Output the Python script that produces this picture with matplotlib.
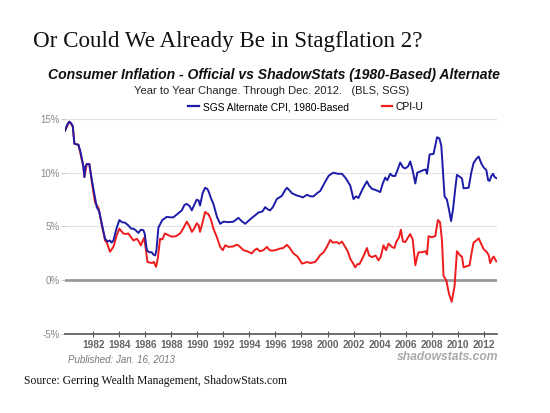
import matplotlib
matplotlib.use("Agg")
import matplotlib.pyplot as plt
from matplotlib.lines import Line2D

# SGS alternate CPI (1980-based), year-over-year %
sgs_year = [1979.82, 1980.0, 1980.15, 1980.3, 1980.42, 1980.54, 1980.85, 1981.0, 1981.23, 1981.31,
            1981.4, 1981.49, 1981.69, 1981.9, 1982.13, 1982.26, 1982.45, 1982.65, 1982.9, 1983.1,
            1983.28, 1983.4, 1983.54, 1983.8, 1984.0, 1984.2, 1984.44, 1984.69, 1984.9, 1985.08,
            1985.3, 1985.46, 1985.65, 1985.85, 1985.95, 1986.11, 1986.3, 1986.49, 1986.6, 1986.75,
            1986.85, 1987.0, 1987.3, 1987.65, 1987.9, 1988.15, 1988.5, 1988.8, 1989.0, 1989.18,
            1989.4, 1989.57, 1989.75, 1989.95, 1990.1, 1990.2, 1990.4, 1990.59, 1990.75, 1990.85,
            1991.05, 1991.23, 1991.5, 1991.75, 1992.0, 1992.4, 1992.77, 1993.15, 1993.4, 1993.67,
            1993.9, 1994.18, 1994.4, 1994.69, 1995.0, 1995.21, 1995.4, 1995.59, 1995.8, 1996.1,
            1996.49, 1996.75, 1996.88, 1997.05, 1997.26, 1997.6, 1997.9, 1998.1, 1998.42, 1998.7,
            1998.92, 1999.2, 1999.44, 1999.75, 2000.08, 2000.3, 2000.46, 2000.8, 2001.11, 2001.4,
            2001.75, 2002.0, 2002.2, 2002.38, 2002.7, 2003.03, 2003.2, 2003.42, 2003.7, 2004.05,
            2004.25, 2004.44, 2004.6, 2004.82, 2005.0, 2005.2, 2005.4, 2005.59, 2005.8, 2005.98,
            2006.2, 2006.36, 2006.55, 2006.75, 2006.9, 2007.1, 2007.38, 2007.55, 2007.65, 2007.85,
            2008.15, 2008.42, 2008.6, 2008.75, 2009.0, 2009.18, 2009.35, 2009.5, 2009.65, 2009.82,
            2009.95, 2010.2, 2010.34, 2010.46, 2010.85, 2011.05, 2011.23, 2011.45, 2011.62, 2011.85,
            2012.0, 2012.21, 2012.35, 2012.46, 2012.6, 2012.72, 2012.85, 2012.98]
sgs_val = [13.9, 14.5, 14.75, 14.6, 14.3, 12.7, 12.6, 12.0, 10.6, 9.6,
           10.6, 10.8, 10.8, 9.2, 7.7, 6.8, 6.4, 5.25, 3.85, 3.6,
           3.7, 3.5, 3.7, 4.9, 5.6, 5.4, 5.35, 5.1, 4.8, 4.8,
           4.6, 4.4, 4.7, 4.65, 4.3, 2.8, 2.6, 2.6, 2.4, 2.3,
           2.8, 4.9, 5.6, 5.9, 5.85, 5.85, 6.2, 6.5, 7.0, 7.1,
           6.9, 6.5, 7.0, 7.5, 7.4, 6.95, 8.1, 8.6, 8.5, 8.3,
           7.6, 7.1, 5.9, 5.25, 5.45, 5.4, 5.45, 5.8, 5.5, 5.25,
           5.5, 5.8, 6.0, 6.3, 6.4, 6.8, 6.6, 6.5, 6.8, 7.55,
           7.85, 8.4, 8.6, 8.4, 8.1, 7.9, 7.8, 7.7, 7.95, 7.8,
           7.8, 8.1, 8.3, 9.0, 9.7, 9.9, 10.0, 9.9, 9.9, 9.5,
           8.8, 7.55, 7.8, 7.65, 8.5, 9.2, 8.8, 8.5, 8.4, 8.2,
           9.0, 9.55, 9.3, 9.9, 9.7, 9.7, 10.3, 10.95, 10.5, 10.4,
           10.6, 11.05, 10.2, 9.0, 10.0, 10.1, 10.25, 10.3, 9.9, 11.7,
           11.75, 13.3, 13.2, 12.5, 7.8, 7.5, 6.5, 5.5, 6.6, 8.5,
           9.8, 9.6, 9.45, 8.55, 8.6, 10.0, 10.9, 11.3, 11.5, 10.8,
           10.5, 10.25, 9.3, 9.25, 9.7, 9.9, 9.6, 9.5]

# official CPI-U, year-over-year %
cpi_year = [1979.82, 1980.15, 1980.42, 1980.54, 1980.85, 1981.23, 1981.31, 1981.49, 1981.69, 1981.9,
            1982.13, 1982.26, 1982.4, 1982.65, 1982.9, 1983.03, 1983.28, 1983.54, 1983.8, 1984.0,
            1984.3, 1984.5, 1984.69, 1984.9, 1985.08, 1985.34, 1985.5, 1985.65, 1985.9, 1986.0,
            1986.16, 1986.49, 1986.65, 1986.82, 1986.95, 1987.13, 1987.3, 1987.5, 1987.75, 1988.03,
            1988.35, 1988.67, 1988.9, 1989.18, 1989.4, 1989.57, 1989.75, 1989.95, 1990.1, 1990.2,
            1990.4, 1990.59, 1990.75, 1990.85, 1991.05, 1991.23, 1991.5, 1991.75, 1991.95, 1992.13,
            1992.4, 1992.77, 1993.0, 1993.15, 1993.54, 1993.8, 1994.18, 1994.4, 1994.57, 1994.8,
            1995.08, 1995.34, 1995.55, 1995.72, 1996.0, 1996.36, 1996.6, 1996.88, 1997.1, 1997.38,
            1997.7, 1998.03, 1998.2, 1998.42, 1998.7, 1999.05, 1999.25, 1999.44, 1999.7, 1999.95,
            2000.21, 2000.4, 2000.72, 2000.9, 2001.11, 2001.36, 2001.55, 2001.75, 2001.95, 2002.13,
            2002.3, 2002.46, 2002.75, 2003.03, 2003.2, 2003.42, 2003.7, 2003.92, 2004.1, 2004.3,
            2004.5, 2004.69, 2004.95, 2005.15, 2005.28, 2005.5, 2005.64, 2005.8, 2005.98, 2006.2,
            2006.36, 2006.55, 2006.75, 2006.9, 2007.0, 2007.25, 2007.52, 2007.65, 2007.77, 2008.0,
            2008.28, 2008.49, 2008.65, 2008.8, 2008.92, 2009.13, 2009.35, 2009.55, 2009.77, 2009.95,
            2010.2, 2010.34, 2010.46, 2010.92, 2011.1, 2011.23, 2011.45, 2011.62, 2011.85, 2012.0,
            2012.26, 2012.4, 2012.51, 2012.65, 2012.77, 2012.98]
cpi_val = [13.9, 14.75, 14.3, 12.7, 12.6, 10.6, 9.6, 10.8, 10.8, 9.0,
           7.2, 7.0, 6.7, 5.1, 3.7, 3.5, 2.65, 3.1, 4.2, 4.8,
           4.35, 4.3, 4.35, 4.0, 3.7, 3.85, 3.6, 3.25, 3.95, 3.2,
           1.7, 1.6, 1.7, 1.25, 2.0, 3.85, 3.8, 4.35, 4.2, 4.05,
           4.1, 4.35, 4.8, 5.45, 5.0, 4.5, 4.8, 5.3, 5.1, 4.5,
           5.4, 6.35, 6.2, 6.15, 5.6, 4.8, 4.0, 3.1, 2.8, 3.25,
           3.1, 3.15, 3.3, 3.25, 2.8, 2.7, 2.5, 2.8, 2.95, 2.7,
           2.8, 3.1, 2.8, 2.75, 2.8, 2.95, 3.0, 3.3, 3.0, 2.5,
           2.2, 1.55, 1.6, 1.7, 1.6, 1.7, 2.0, 2.35, 2.6, 3.1,
           3.75, 3.5, 3.55, 3.4, 3.6, 3.1, 2.7, 2.0, 1.6, 1.2,
           1.5, 1.5, 2.2, 3.0, 2.3, 2.15, 2.3, 1.85, 2.2, 3.25,
           2.8, 3.4, 3.1, 3.0, 3.55, 4.0, 4.7, 3.6, 3.55, 4.0,
           4.3, 3.8, 1.4, 2.2, 2.6, 2.6, 2.7, 2.4, 4.1, 4.0,
           4.1, 5.6, 5.4, 3.7, 0.4, 0.0, -1.3, -2.0, -0.5, 2.7,
           2.3, 2.2, 1.2, 1.4, 2.7, 3.5, 3.7, 3.9, 3.3, 2.9,
           2.6, 2.3, 1.6, 2.0, 2.2, 1.75]

tick_years = list(range(1982, 2013, 2))
y_ticks = [-5, 0, 5, 10, 15]

W, H = 550, 413
fig = plt.figure(figsize=(W / 100, H / 100), dpi=100)


def px(x, y):
    return x / W, 1 - y / H


# plot area: x 65..497 px, -5% at y=334, 15% at y=119
ax = fig.add_axes([65 / W, (H - 334) / H, 432 / W, (334 - 113.6) / H])
ax.plot(cpi_year, cpi_val, color="#ee1c1c", lw=1.4, label="CPI-U", zorder=3)
ax.plot(sgs_year, sgs_val, color="#1c1ca8", lw=1.4, label="SGS Alternate CPI, 1980-Based", zorder=4)

ax.set_xlim(1979.82, 2013.03)
ax.set_ylim(-5, 15.5)
for v in [5, 10, 15]:
    ax.axhline(v, color="#e2e2e2", lw=0.8, zorder=1)
ax.axhline(0, color="#999999", lw=2.0, zorder=2)

for s in ["top", "right", "left"]:
    ax.spines[s].set_visible(False)
ax.spines["bottom"].set_color("#555555")
ax.spines["bottom"].set_linewidth(1.2)

ax.set_xticks(tick_years)
ax.set_xticklabels([str(y) for y in tick_years], fontsize=7.3, color="#666666",
                   fontweight="bold", family="Liberation Sans")
ax.set_yticks(y_ticks)
ax.set_yticklabels([f"{v}%" for v in y_ticks], fontsize=7, color="#888888", family="Liberation Sans")
ax.tick_params(axis="x", direction="inout", length=5, width=0.8, color="#555555", pad=2)
ax.tick_params(axis="y", length=3, width=0.6, color="#bbbbbb", pad=1)

# legend
h_sgs = Line2D([], [], color="#1c1ca8", lw=1.6)
h_cpi = Line2D([], [], color="#ee1c1c", lw=1.6)
fig.legend([h_sgs, h_cpi], ["SGS Alternate CPI, 1980-Based", "CPI-U"], loc="center",
           bbox_to_anchor=px(306, 107), ncol=2, frameon=False, handlelength=1.0,
           handletextpad=0.4, columnspacing=3.2, prop={"family": "Liberation Sans", "size": 7.4})

fig.text(*px(33, 41), "Or Could We Already Be in Stagflation 2?", family="Liberation Serif",
         fontsize=16.6, va="center", ha="left", color="#111111")
fig.text(*px(274, 75), "Consumer Inflation - Official vs ShadowStats (1980-Based) Alternate",
         family="Liberation Sans", fontsize=10.1, fontweight="bold", fontstyle="italic",
         ha="center", va="center", color="#111111")
fig.text(*px(272, 91), "Year to Year Change. Through Dec. 2012.   (BLS, SGS)",
         family="Liberation Sans", fontsize=8, ha="center", va="center", color="#222222")
fig.text(*px(68, 359), "Published: Jan. 16, 2013", family="Liberation Sans", fontsize=7,
         fontstyle="italic", ha="left", va="center", color="#777777")
fig.text(*px(498, 357), "shadowstats.com", family="Liberation Sans", fontsize=8.7,
         fontstyle="italic", fontweight="bold", ha="right", va="center", color="#aaaaaa")
fig.text(*px(24, 381), "Source: Gerring Wealth Management, ShadowStats.com", family="Liberation Serif",
         fontsize=8.4, ha="left", va="center", color="#111111")

fig.savefig("out.png", dpi=100)
